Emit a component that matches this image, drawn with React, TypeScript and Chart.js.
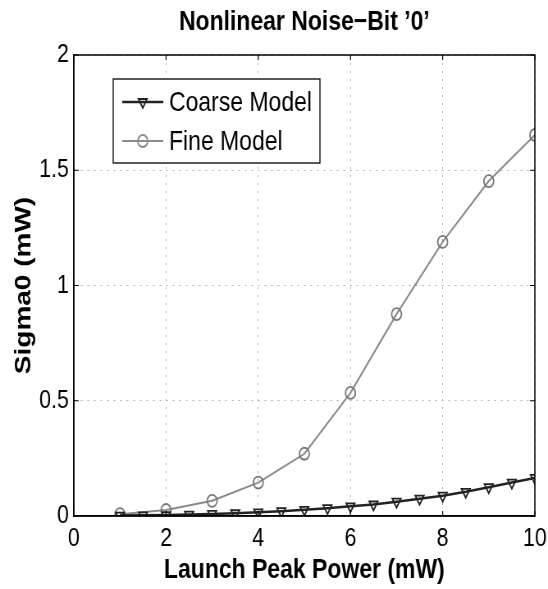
import React, { useEffect, useRef } from "react";
import { Chart, registerables } from "chart.js";
import { drawPoint } from "chart.js/helpers";

Chart.register(...registerables);

// ---- data ----
const TITLE = "Nonlinear Noise\u2212Bit \u20190\u2019";
const X_TITLE = "Launch Peak Power (mW)";
const Y_TITLE = "Sigma0 (mW)";
const SERIES_NAMES = ["Coarse Model", "Fine Model"];

const coarseX = [1, 1.5, 2, 2.5, 3, 3.5, 4, 4.5, 5, 5.5, 6, 6.5, 7, 7.5, 8, 8.5, 9, 9.5, 10];
const coarseY = [0.002, 0.003, 0.004, 0.006, 0.009, 0.012, 0.016, 0.021, 0.027, 0.034, 0.042, 0.05, 0.062, 0.075, 0.088, 0.105, 0.125, 0.145, 0.165];

const fineX = [1, 2, 3, 4, 5, 6, 7, 8, 9, 10];
const fineY = [0.008, 0.026, 0.066, 0.145, 0.27, 0.534, 0.876, 1.189, 1.453, 1.653];

const X_MIN = 0, X_MAX = 10, X_STEP = 2;
const Y_MIN = 0, Y_MAX = 2, Y_STEP = 0.5;

// ---- layout (canvas is drawn wider, then squeezed horizontally like the original) ----
const CSS_W = 548;
const H = 589;
const SQUEEZE = 0.82;
const W = Math.round(CSS_W / SQUEEZE);
const FONT = '"Liberation Sans", Arial, Helvetica, sans-serif';

const COARSE_COLOR = "#222222";
const FINE_COLOR = "#8a8a8a";

const framePlugin = {
  id: "frameAndLegend",
  afterDatasetsDraw(chart: any) {
    const { ctx, chartArea: a, scales } = chart;
    ctx.save();
    // box
    ctx.strokeStyle = "#000";
    ctx.lineWidth = 1.5;
    ctx.setLineDash([]);
    ctx.strokeRect(a.left, a.top, a.right - a.left, a.bottom - a.top);
    // inward ticks
    ctx.lineWidth = 1.2;
    ctx.beginPath();
    scales.x.ticks.forEach((t: any) => {
      const px = scales.x.getPixelForValue(t.value);
      ctx.moveTo(px, a.bottom);
      ctx.lineTo(px, a.bottom - 5);
      ctx.moveTo(px, a.top);
      ctx.lineTo(px, a.top + 5);
    });
    scales.y.ticks.forEach((t: any) => {
      const py = scales.y.getPixelForValue(t.value);
      ctx.moveTo(a.left, py);
      ctx.lineTo(a.left + 6, py);
      ctx.moveTo(a.right, py);
      ctx.lineTo(a.right - 6, py);
    });
    ctx.stroke();

    // title centred over the axes
    ctx.fillStyle = "#000";
    ctx.font = `bold 28px ${FONT}`;
    ctx.textAlign = "center";
    ctx.textBaseline = "middle";
    ctx.fillText(TITLE, (a.left + a.right) / 2, 22);

    // legend
    const bx = 138, by = 79, bw = 252, bh = 84;
    ctx.fillStyle = "#fff";
    ctx.fillRect(bx, by, bw, bh);
    ctx.strokeStyle = "#000";
    ctx.lineWidth = 1.3;
    ctx.strokeRect(bx, by, bw, bh);
    const rows = [
      { y: 102, color: COARSE_COLOR, width: 2.5, style: "triangle", rot: 180 },
      { y: 141, color: FINE_COLOR, width: 2, style: "circle", rot: 0 },
    ];
    rows.forEach((r, i) => {
      ctx.strokeStyle = r.color;
      ctx.lineWidth = r.width;
      ctx.beginPath();
      ctx.moveTo(149, r.y);
      ctx.lineTo(199, r.y);
      ctx.stroke();
      ctx.fillStyle = "rgba(0,0,0,0)";
      ctx.strokeStyle = r.color;
      ctx.lineWidth = 1.8;
      drawPoint(ctx, { pointStyle: r.style, radius: 6, rotation: r.rot, borderWidth: 1.8 } as any, 174, r.y);
      ctx.fillStyle = "#000";
      ctx.font = `28px ${FONT}`;
      ctx.textAlign = "left";
      ctx.textBaseline = "middle";
      ctx.fillText(SERIES_NAMES[i], 206, r.y + 1);
    });
    ctx.restore();
  },
};

export default function App() {
  const ref = useRef<HTMLCanvasElement | null>(null);

  useEffect(() => {
    if (!ref.current) return;
    const chart = new Chart(ref.current, {
      type: "line",
      data: {
        datasets: [
          {
            label: SERIES_NAMES[0],
            data: coarseX.map((x, i) => ({ x, y: coarseY[i] })),
            borderColor: COARSE_COLOR,
            borderWidth: 2.5,
            pointStyle: "triangle",
            pointRotation: 180,
            pointRadius: 6,
            pointBorderWidth: 1.8,
            pointBorderColor: COARSE_COLOR,
            pointBackgroundColor: "rgba(0,0,0,0)",
            tension: 0,
          },
          {
            label: SERIES_NAMES[1],
            data: fineX.map((x, i) => ({ x, y: fineY[i] })),
            borderColor: FINE_COLOR,
            borderWidth: 2,
            pointStyle: "circle",
            pointRadius: 6,
            pointBorderWidth: 1.8,
            pointBorderColor: "#777",
            pointBackgroundColor: "rgba(0,0,0,0)",
            tension: 0,
          },
        ],
      },
      options: {
        responsive: false,
        maintainAspectRatio: false,
        devicePixelRatio: 1,
        animation: false,
        layout: { padding: { top: 55, right: 16, bottom: 0, left: 0 } },
        plugins: {
          legend: { display: false },
          title: { display: false },
          tooltip: { enabled: false },
        },
        scales: {
          x: {
            type: "linear",
            min: X_MIN,
            max: X_MAX,
            ticks: {
              stepSize: X_STEP,
              color: "#000",
              font: { family: FONT, size: 26 },
              padding: 7,
              maxRotation: 0,
              callback: (v: any) => String(v),
            },
            grid: { color: "#aaaaaa", lineWidth: 1, drawTicks: false },
            border: { display: true, color: "#000", width: 1.5, dash: [2, 6] },
            title: {
              display: true,
              text: X_TITLE,
              color: "#000",
              font: { family: FONT, size: 28, weight: "bold" },
              padding: { top: 0, bottom: 2 },
            },
            afterFit: (s: any) => {
              s.height = 73;
              s.paddingLeft = 0;
              s.paddingRight = 0;
            },
          },
          y: {
            type: "linear",
            min: Y_MIN,
            max: Y_MAX,
            ticks: {
              stepSize: Y_STEP,
              color: "#000",
              font: { family: FONT, size: 26 },
              padding: 6,
              callback: (v: any) => String(v),
            },
            grid: { color: "#aaaaaa", lineWidth: 1, drawTicks: false },
            border: { display: true, color: "#000", width: 1.5, dash: [2, 6] },
            title: {
              display: true,
              text: Y_TITLE,
              color: "#000",
              font: { family: FONT, size: 28, weight: "bold" },
              padding: { top: 12, bottom: 0 },
            },
            afterFit: (s: any) => {
              s.width = 90;
              s.paddingTop = 0;
              s.paddingBottom = 0;
            },
          },
        },
      },
      plugins: [framePlugin],
    } as any);
    return () => chart.destroy();
  }, []);

  return (
    <div style={{ position: "absolute", left: 0, top: 0, width: CSS_W, height: H, background: "#fff" }}>
      <canvas
        ref={ref}
        width={W}
        height={H}
        style={{ width: `${CSS_W}px`, height: `${H}px`, display: "block" }}
      />
    </div>
  );
}
